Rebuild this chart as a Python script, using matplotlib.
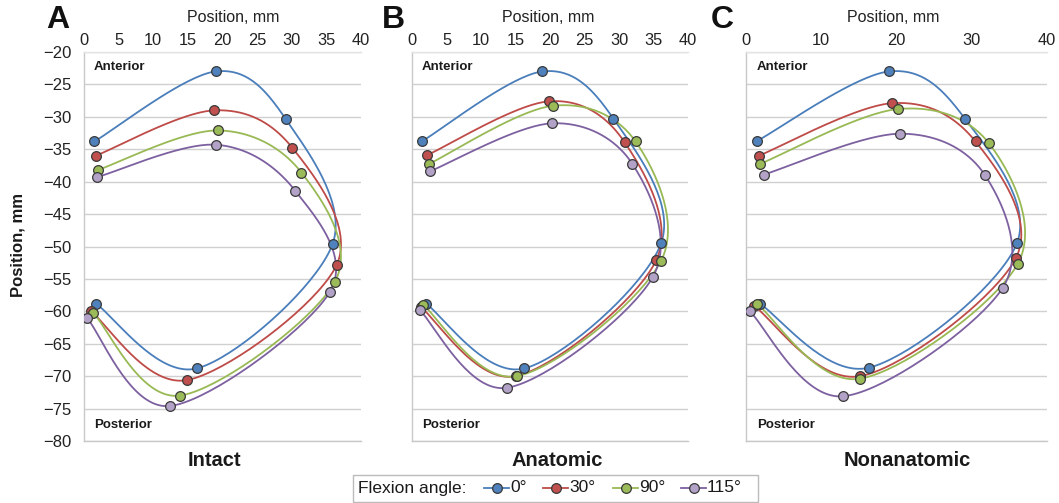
import numpy as np
import matplotlib
matplotlib.use("Agg")
import matplotlib.pyplot as plt
from matplotlib.lines import Line2D
from matplotlib.patches import Rectangle

plt.rcParams['font.family'] = ['Liberation Sans', 'DejaVu Sans']

# ---------------- data (order: 0°, 30°, 90°, 115°) ----------------
angles = ["0°", "30°", "90°", "115°"]
panel_titles = ["Intact", "Anatomic", "Nonanatomic"]
panel_letters = ["A", "B", "C"]

intact_x = [[1.5, 19.0, 29.1, 35.9, 16.3, 1.8],
            [1.7, 18.8, 30.1, 36.5, 14.9, 1.0],
            [2.0, 19.3, 31.4, 36.2, 13.8, 1.3],
            [1.9, 19.0, 30.5, 35.5, 12.4, 0.4]]
intact_y = [[-33.8, -23.0, -30.3, -49.6, -68.8, -58.9],
            [-36.0, -29.0, -34.8, -52.8, -70.6, -60.0],
            [-38.2, -32.1, -38.6, -55.5, -73.0, -60.2],
            [-39.3, -34.3, -41.4, -57.0, -74.6, -61.0]]

anatomic_x = [[1.4, 18.9, 29.2, 36.1, 16.3, 2.0],
              [2.2, 19.9, 30.8, 35.4, 15.0, 1.3],
              [2.4, 20.4, 32.4, 36.1, 15.2, 1.6],
              [2.6, 20.3, 31.9, 34.9, 13.7, 1.1]]
anatomic_y = [[-33.8, -23.0, -30.3, -49.5, -68.8, -58.8],
              [-35.9, -27.6, -33.9, -52.1, -70.0, -59.4],
              [-37.3, -28.3, -33.8, -52.2, -70.0, -59.0],
              [-38.4, -31.0, -37.2, -54.7, -71.8, -59.8]]

nonanatomic_x = [[1.5, 19.0, 29.1, 36.0, 16.3, 1.9],
                 [1.7, 19.4, 30.5, 35.9, 15.2, 1.1],
                 [1.8, 20.2, 32.3, 36.1, 15.1, 1.5],
                 [2.4, 20.5, 31.7, 34.1, 12.9, 0.5]]
nonanatomic_y = [[-33.7, -23.0, -30.3, -49.5, -68.7, -58.9],
                 [-36.0, -27.9, -33.8, -51.7, -70.0, -59.2],
                 [-37.3, -28.8, -34.1, -52.7, -70.4, -58.9],
                 [-38.9, -32.6, -38.9, -56.4, -73.1, -60.0]]

x_ticks_ab = [0, 5, 10, 15, 20, 25, 30, 35, 40]
x_ticks_c = [0, 10, 20, 30, 40]
y_ticks = [-20, -25, -30, -35, -40, -45, -50, -55, -60, -65, -70, -75, -80]

# ---------------- styles ----------------
line_colors = ["#4A7EBB", "#BE4B48", "#98B954", "#7D60A0"]
fill_colors = ["#4F81BD", "#C0504D", "#9BBB59", "#B3A2C7"]
grid_color = "#D0D0D0"

W, H = 1059, 503


def smooth(xs, ys, n=40):
    """Excel-like smoothed scatter line (Catmull-Rom Bezier through points)."""
    p = np.column_stack([xs, ys]).astype(float)
    ext = np.vstack([p[0], p, p[-1]])
    out = []
    t = np.linspace(0, 1, n)[:, None]
    for i in range(1, len(ext) - 2):
        p0, p1, p2, p3 = ext[i - 1], ext[i], ext[i + 1], ext[i + 2]
        c1 = p1 + (p2 - p0) / 6.0
        c2 = p2 - (p3 - p1) / 6.0
        seg = ((1 - t) ** 3) * p1 + 3 * ((1 - t) ** 2) * t * c1 + 3 * (1 - t) * t ** 2 * c2 + t ** 3 * p2
        out.append(seg if i == 1 else seg[1:])
    out = np.vstack(out)
    return out[:, 0], out[:, 1]


fig = plt.figure(figsize=(W / 100, H / 100), dpi=100)

# axes pixel boxes (left, right)
boxes = [(84, 361), (412, 688), (746, 1047)]
top_px, bot_px = 52, 441
datasets = [(intact_x, intact_y), (anatomic_x, anatomic_y), (nonanatomic_x, nonanatomic_y)]
title_cx = [214, 557, 907]
toplabel_cx = [233, 548, 893]
letter_x = [46, 382, 711]

for k, ((l, r), (dx, dy)) in enumerate(zip(boxes, datasets)):
    ax = fig.add_axes([l / W, 1 - bot_px / H, (r - l) / W, (bot_px - top_px) / H])
    ax.set_xlim(0, 40)
    ax.set_ylim(-80, -20)
    ax.xaxis.tick_top()
    xt = x_ticks_c if k == 2 else x_ticks_ab
    ax.set_xticks(xt)
    ax.set_xticklabels([str(v) for v in xt], fontsize=11.8, color="#222222")
    ax.set_yticks(y_ticks)
    if k == 0:
        ax.set_yticklabels([("\u2212%d" % -v) for v in y_ticks], fontsize=12, color="#222222")
    else:
        ax.set_yticklabels([])
    ax.tick_params(axis='x', length=0, pad=3)
    ax.tick_params(axis='y', length=0, pad=9)
    ax.grid(axis='y', color=grid_color, linewidth=1.0)
    ax.set_axisbelow(True)
    ax.spines['right'].set_visible(False)
    for s in ['left', 'bottom', 'top']:
        ax.spines[s].set_color("#C8C8C8")
        ax.spines[s].set_linewidth(1.0)
    ax.spines['top'].set_color("#E4E4E4")

    for j in range(4):
        sx, sy = smooth(dx[j], dy[j])
        ax.plot(sx, sy, color=line_colors[j], lw=1.3, zorder=3)
        ax.plot(dx[j], dy[j], ls='none', marker='o', markersize=7,
                markerfacecolor=fill_colors[j], markeredgecolor="#3A3A3A",
                markeredgewidth=0.9, zorder=4)

    ax.text(1.45, -22.3, "Anterior", fontsize=9.5, fontweight='bold', va='center', ha='left', color="#1A1A1A")
    ax.text(1.45, -77.6, "Posterior", fontsize=9.5, fontweight='bold', va='center', ha='left', color="#1A1A1A")

    fig.text(title_cx[k] / W, 1 - 460 / H, panel_titles[k], fontsize=14.5, fontweight='bold',
             ha='center', va='center', color="#1A1A1A")
    fig.text(toplabel_cx[k] / W, 1 - 17 / H, "Position, mm", fontsize=11.5,
             ha='center', va='center', color="#222222")
    fig.text(letter_x[k] / W, 1 - 20 / H, panel_letters[k], fontsize=23, fontweight='bold',
             ha='left', va='center', color="#111111")

fig.text(18 / W, 1 - 245 / H, "Position, mm", fontsize=12, fontweight='bold', rotation=90,
         ha='center', va='center', color="#1A1A1A")

# ---------------- legend ----------------
fig.patches.append(Rectangle((353 / W, 1 - 502 / H), (758 - 353) / W, (502 - 475) / H,
                             transform=fig.transFigure, facecolor='white',
                             edgecolor="#BBBBBB", linewidth=1.0))
leg_y = 1 - 488 / H
fig.text(358 / W, leg_y, "Flexion angle:", fontsize=12.5, ha='left', va='center', color="#1A1A1A")
marker_px = [497, 556, 626, 694]
for j in range(4):
    mx = marker_px[j]
    fig.lines.append(Line2D([(mx - 13) / W, (mx + 12) / W], [leg_y, leg_y], transform=fig.transFigure,
                            color=line_colors[j], lw=1.3))
    fig.lines.append(Line2D([mx / W], [leg_y], transform=fig.transFigure, ls='none', marker='o',
                            markersize=7, markerfacecolor=fill_colors[j],
                            markeredgecolor="#3A3A3A", markeredgewidth=0.9))
    fig.text((mx + 13) / W, leg_y, angles[j], fontsize=12.5, ha='left', va='center', color="#1A1A1A")

fig.savefig("out.png", dpi=100)
